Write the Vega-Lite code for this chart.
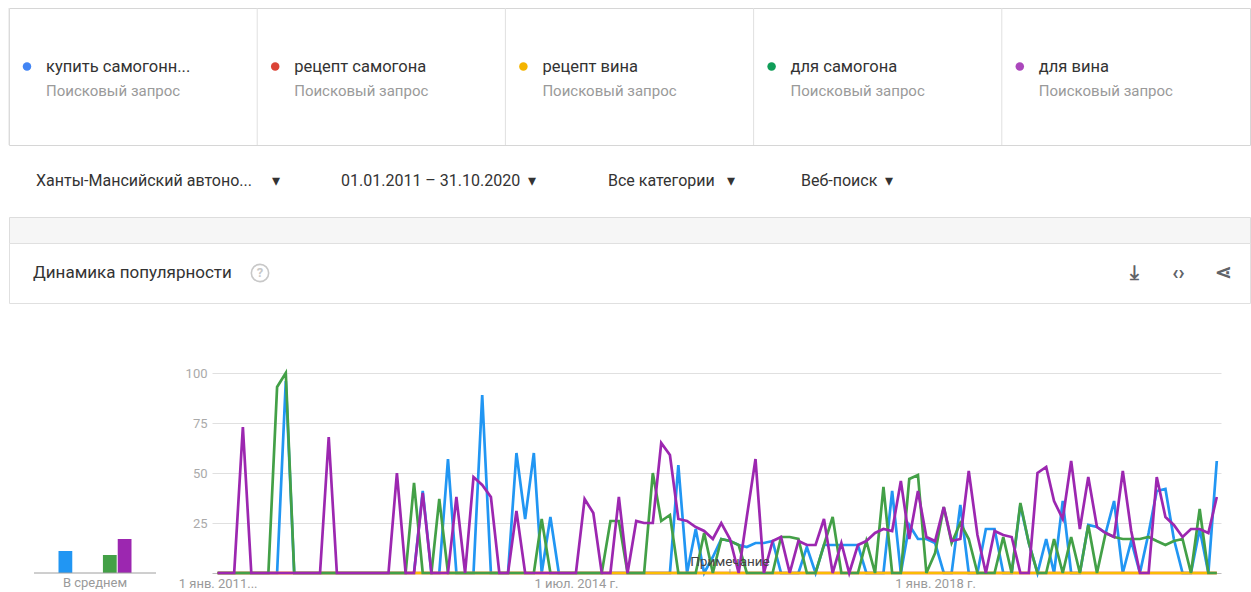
{
  "$schema": "https://vega.github.io/schema/vega-lite/v6.json",
  "padding": {"left": 8, "top": 7, "right": 0, "bottom": 0},
  "background": "white",
  "spacing": 0,
  "bounds": "flush",
  "resolve": {"scale": {"color": "independent"}},
  "config": {
    "font": "Roboto",
    "view": {"stroke": null},
    "axis": {"labelFont": "Roboto", "titleFont": "Roboto"}
  },
  "datasets": {
    "terms": [
      {"c": "b", "term": "купить самогонн...", "sub": "Поисковый запрос"},
      {"c": "r", "term": "рецепт самогона", "sub": "Поисковый запрос"},
      {"c": "y", "term": "рецепт вина", "sub": "Поисковый запрос"},
      {"c": "g", "term": "для самогона", "sub": "Поисковый запрос"},
      {"c": "p", "term": "для вина", "sub": "Поисковый запрос"}
    ],
    "filters": [
      {"k": "region", "label": "Ханты-Мансийский автоно...\u00a0\u00a0\u00a0\u00a0 ▾"},
      {"k": "period", "label": "01.01.2011 – 31.10.2020\u00a0 ▾"},
      {"k": "category", "label": "Все категории\u00a0\u00a0 ▾"},
      {"k": "type", "label": "Веб-поиск\u00a0 ▾"}
    ],
    "header": [
      {"k": "title", "label": "Динамика популярности"},
      {"k": "help", "label": "?"}
    ],
    "icons": [
      {"k": "download", "label": "⤓"},
      {"k": "embed", "label": "‹›"},
      {"k": "share", "label": "⋖"}
    ],
    "avg": [
      {"c": "b", "v": 11},
      {"c": "r", "v": 0},
      {"c": "y", "v": 0},
      {"c": "g", "v": 9},
      {"c": "p", "v": 17}
    ],
    "avgLabel": [{"label": "В среднем"}],
    "notes": [{"d": "2016-01-01", "note": "Примечание"}],
    "trend": [
      {"d":"2011-01-01","b":0,"r":0,"y":0,"g":0,"p":0},
      {"d":"2011-02-01","b":0,"r":0,"y":0,"g":0,"p":0},
      {"d":"2011-03-01","b":0,"r":0,"y":0,"g":0,"p":0},
      {"d":"2011-04-01","b":0,"r":0,"y":0,"g":0,"p":73},
      {"d":"2011-05-01","b":0,"r":0,"y":0,"g":0,"p":0},
      {"d":"2011-06-01","b":0,"r":0,"y":0,"g":0,"p":0},
      {"d":"2011-07-01","b":0,"r":0,"y":0,"g":0,"p":0},
      {"d":"2011-08-01","b":0,"r":0,"y":0,"g":93,"p":0},
      {"d":"2011-09-01","b":96,"r":0,"y":0,"g":100,"p":0},
      {"d":"2011-10-01","b":0,"r":0,"y":0,"g":0,"p":0},
      {"d":"2011-11-01","b":0,"r":0,"y":0,"g":0,"p":0},
      {"d":"2011-12-01","b":0,"r":0,"y":0,"g":0,"p":0},
      {"d":"2012-01-01","b":0,"r":0,"y":0,"g":0,"p":0},
      {"d":"2012-02-01","b":0,"r":0,"y":0,"g":0,"p":68},
      {"d":"2012-03-01","b":0,"r":0,"y":0,"g":0,"p":0},
      {"d":"2012-04-01","b":0,"r":0,"y":0,"g":0,"p":0},
      {"d":"2012-05-01","b":0,"r":0,"y":0,"g":0,"p":0},
      {"d":"2012-06-01","b":0,"r":0,"y":0,"g":0,"p":0},
      {"d":"2012-07-01","b":0,"r":0,"y":0,"g":0,"p":0},
      {"d":"2012-08-01","b":0,"r":0,"y":0,"g":0,"p":0},
      {"d":"2012-09-01","b":0,"r":0,"y":0,"g":0,"p":0},
      {"d":"2012-10-01","b":0,"r":0,"y":0,"g":0,"p":50},
      {"d":"2012-11-01","b":0,"r":0,"y":0,"g":0,"p":0},
      {"d":"2012-12-01","b":0,"r":0,"y":0,"g":45,"p":0},
      {"d":"2013-01-01","b":41,"r":0,"y":0,"g":0,"p":40},
      {"d":"2013-02-01","b":0,"r":0,"y":0,"g":0,"p":0},
      {"d":"2013-03-01","b":0,"r":0,"y":0,"g":37,"p":0},
      {"d":"2013-04-01","b":57,"r":0,"y":0,"g":0,"p":0},
      {"d":"2013-05-01","b":0,"r":0,"y":0,"g":0,"p":38},
      {"d":"2013-06-01","b":0,"r":0,"y":0,"g":0,"p":0},
      {"d":"2013-07-01","b":0,"r":0,"y":0,"g":0,"p":48},
      {"d":"2013-08-01","b":89,"r":0,"y":0,"g":0,"p":44},
      {"d":"2013-09-01","b":0,"r":0,"y":0,"g":0,"p":38},
      {"d":"2013-10-01","b":0,"r":0,"y":0,"g":0,"p":0},
      {"d":"2013-11-01","b":0,"r":0,"y":0,"g":0,"p":0},
      {"d":"2013-12-01","b":60,"r":0,"y":0,"g":0,"p":31},
      {"d":"2014-01-01","b":27,"r":0,"y":0,"g":0,"p":0},
      {"d":"2014-02-01","b":60,"r":0,"y":0,"g":0,"p":0},
      {"d":"2014-03-01","b":0,"r":0,"y":0,"g":27,"p":0},
      {"d":"2014-04-01","b":28,"r":0,"y":0,"g":0,"p":0},
      {"d":"2014-05-01","b":0,"r":0,"y":0,"g":0,"p":0},
      {"d":"2014-06-01","b":0,"r":0,"y":0,"g":0,"p":0},
      {"d":"2014-07-01","b":0,"r":0,"y":0,"g":0,"p":0},
      {"d":"2014-08-01","b":0,"r":0,"y":0,"g":0,"p":37},
      {"d":"2014-09-01","b":0,"r":0,"y":0,"g":0,"p":30},
      {"d":"2014-10-01","b":0,"r":0,"y":0,"g":0,"p":0},
      {"d":"2014-11-01","b":0,"r":0,"y":0,"g":26,"p":0},
      {"d":"2014-12-01","b":0,"r":0,"y":0,"g":26,"p":38},
      {"d":"2015-01-01","b":0,"r":0,"y":0,"g":0,"p":0},
      {"d":"2015-02-01","b":0,"r":0,"y":0,"g":0,"p":26},
      {"d":"2015-03-01","b":0,"r":0,"y":0,"g":0,"p":25},
      {"d":"2015-04-01","b":0,"r":0,"y":0,"g":50,"p":25},
      {"d":"2015-05-01","b":0,"r":0,"y":0,"g":26,"p":65},
      {"d":"2015-06-01","b":0,"r":0,"y":0,"g":29,"p":59},
      {"d":"2015-07-01","b":54,"r":0,"y":0,"g":0,"p":27},
      {"d":"2015-08-01","b":0,"r":0,"y":0,"g":0,"p":26},
      {"d":"2015-09-01","b":22,"r":0,"y":0,"g":0,"p":23},
      {"d":"2015-10-01","b":0,"r":0,"y":0,"g":20,"p":21},
      {"d":"2015-11-01","b":8,"r":0,"y":0,"g":0,"p":17},
      {"d":"2015-12-01","b":17,"r":0,"y":0,"g":17,"p":25},
      {"d":"2016-01-01","b":16,"r":0,"y":0,"g":16,"p":17},
      {"d":"2016-02-01","b":14,"r":0,"y":0,"g":14,"p":0},
      {"d":"2016-03-01","b":13,"r":0,"y":0,"g":0,"p":28},
      {"d":"2016-04-01","b":15,"r":0,"y":0,"g":0,"p":57},
      {"d":"2016-05-01","b":15,"r":0,"y":0,"g":0,"p":0},
      {"d":"2016-06-01","b":16,"r":0,"y":0,"g":0,"p":16},
      {"d":"2016-07-01","b":0,"r":0,"y":0,"g":18,"p":18},
      {"d":"2016-08-01","b":0,"r":0,"y":0,"g":18,"p":0},
      {"d":"2016-09-01","b":0,"r":0,"y":0,"g":17,"p":16},
      {"d":"2016-10-01","b":13,"r":0,"y":0,"g":0,"p":14},
      {"d":"2016-11-01","b":0,"r":0,"y":0,"g":0,"p":14},
      {"d":"2016-12-01","b":14,"r":0,"y":0,"g":14,"p":27},
      {"d":"2017-01-01","b":14,"r":0,"y":0,"g":28,"p":0},
      {"d":"2017-02-01","b":14,"r":0,"y":0,"g":0,"p":15},
      {"d":"2017-03-01","b":14,"r":0,"y":0,"g":0,"p":0},
      {"d":"2017-04-01","b":14,"r":0,"y":0,"g":0,"p":14},
      {"d":"2017-05-01","b":0,"r":0,"y":0,"g":16,"p":16},
      {"d":"2017-06-01","b":0,"r":0,"y":0,"g":0,"p":20},
      {"d":"2017-07-01","b":0,"r":0,"y":0,"g":43,"p":22},
      {"d":"2017-08-01","b":41,"r":0,"y":0,"g":0,"p":21},
      {"d":"2017-09-01","b":0,"r":0,"y":0,"g":0,"p":46},
      {"d":"2017-10-01","b":24,"r":0,"y":0,"g":47,"p":17},
      {"d":"2017-11-01","b":17,"r":0,"y":0,"g":49,"p":41},
      {"d":"2017-12-01","b":17,"r":0,"y":0,"g":0,"p":18},
      {"d":"2018-01-01","b":15,"r":0,"y":0,"g":10,"p":16},
      {"d":"2018-02-01","b":0,"r":0,"y":0,"g":33,"p":33},
      {"d":"2018-03-01","b":0,"r":0,"y":0,"g":15,"p":16},
      {"d":"2018-04-01","b":34,"r":0,"y":0,"g":25,"p":17},
      {"d":"2018-05-01","b":0,"r":0,"y":0,"g":17,"p":51},
      {"d":"2018-06-01","b":0,"r":0,"y":0,"g":0,"p":19},
      {"d":"2018-07-01","b":22,"r":0,"y":0,"g":0,"p":0},
      {"d":"2018-08-01","b":22,"r":0,"y":0,"g":0,"p":21},
      {"d":"2018-09-01","b":0,"r":0,"y":0,"g":18,"p":19},
      {"d":"2018-10-01","b":0,"r":0,"y":0,"g":0,"p":18},
      {"d":"2018-11-01","b":34,"r":0,"y":0,"g":35,"p":0},
      {"d":"2018-12-01","b":15,"r":0,"y":0,"g":15,"p":0},
      {"d":"2019-01-01","b":0,"r":0,"y":0,"g":0,"p":50},
      {"d":"2019-02-01","b":17,"r":0,"y":0,"g":0,"p":53},
      {"d":"2019-03-01","b":0,"r":0,"y":0,"g":17,"p":36},
      {"d":"2019-04-01","b":36,"r":0,"y":0,"g":0,"p":27},
      {"d":"2019-05-01","b":0,"r":0,"y":0,"g":18,"p":56},
      {"d":"2019-06-01","b":0,"r":0,"y":0,"g":0,"p":22},
      {"d":"2019-07-01","b":24,"r":0,"y":0,"g":24,"p":48},
      {"d":"2019-08-01","b":23,"r":0,"y":0,"g":0,"p":23},
      {"d":"2019-09-01","b":20,"r":0,"y":0,"g":20,"p":20},
      {"d":"2019-10-01","b":36,"r":0,"y":0,"g":18,"p":18},
      {"d":"2019-11-01","b":0,"r":0,"y":0,"g":17,"p":51},
      {"d":"2019-12-01","b":16,"r":0,"y":0,"g":17,"p":21},
      {"d":"2020-01-01","b":0,"r":0,"y":0,"g":17,"p":0},
      {"d":"2020-02-01","b":20,"r":0,"y":0,"g":18,"p":0},
      {"d":"2020-03-01","b":41,"r":0,"y":0,"g":16,"p":48},
      {"d":"2020-04-01","b":42,"r":0,"y":0,"g":14,"p":28},
      {"d":"2020-05-01","b":17,"r":0,"y":0,"g":16,"p":24},
      {"d":"2020-06-01","b":0,"r":0,"y":0,"g":17,"p":18},
      {"d":"2020-07-01","b":0,"r":0,"y":0,"g":0,"p":22},
      {"d":"2020-08-01","b":22,"r":0,"y":0,"g":32,"p":22},
      {"d":"2020-09-01","b":0,"r":0,"y":0,"g":0,"p":20},
      {"d":"2020-10-01","b":56,"r":0,"y":0,"g":0,"p":38}
    ]
  },
  "vconcat": [
    {
      "width": 1241,
      "height": 137,
      "view": {"stroke": "#d6d6d6"},
      "data": {"name": "terms"},
      "layer": [
        {
          "mark": {"type": "rule", "color": "#e0e0e0", "strokeWidth": 1},
          "encoding": {
            "x": {"field": "term", "type": "nominal", "sort": null, "bandPosition": 0,
                  "scale": {"type": "band", "paddingInner": 0, "paddingOuter": 0}, "axis": null}
          }
        },
        {
          "mark": {"type": "circle", "size": 72, "opacity": 1},
          "encoding": {
            "x": {"field": "term", "type": "nominal", "sort": null, "bandPosition": 0.0725,
                  "scale": {"type": "band", "paddingInner": 0, "paddingOuter": 0}, "axis": null},
            "y": {"datum": "name", "type": "nominal", "scale": {"type": "point", "domain": ["name", "sub"], "padding": 0, "range": [58.5, 82.5]}, "axis": null},
            "color": {"field": "c", "type": "nominal", "scale": {"domain": ["b", "r", "y", "g", "p"], "range": ["#4285f4", "#db4437", "#f4b400", "#0f9d58", "#ab47bc"]}, "legend": null}
          }
        },
        {
          "mark": {"type": "text", "align": "left", "baseline": "middle", "fontSize": 16.5, "color": "#333333"},
          "encoding": {
            "x": {"field": "term", "type": "nominal", "sort": null, "bandPosition": 0.1491,
                  "scale": {"type": "band", "paddingInner": 0, "paddingOuter": 0}, "axis": null},
            "y": {"datum": "name", "type": "nominal", "scale": {"type": "point", "domain": ["name", "sub"], "padding": 0, "range": [58.5, 82.5]}, "axis": null},
            "text": {"field": "term"}
          }
        },
        {
          "mark": {"type": "text", "align": "left", "baseline": "middle", "fontSize": 15, "color": "#9a9a9a"},
          "encoding": {
            "x": {"field": "term", "type": "nominal", "sort": null, "bandPosition": 0.1491,
                  "scale": {"type": "band", "paddingInner": 0, "paddingOuter": 0}, "axis": null},
            "y": {"datum": "sub", "type": "nominal", "scale": {"type": "point", "domain": ["name", "sub"], "padding": 0, "range": [58.5, 82.5]}, "axis": null},
            "text": {"field": "sub"}
          }
        }
      ]
    },
    {
      "width": 1241,
      "height": 72,
      "data": {"name": "filters"},
      "layer": [
        {
          "transform": [{"filter": "datum.k == 'region' || datum.k == 'period'"}],
          "mark": {"type": "text", "align": "left", "baseline": "middle", "fontSize": 16, "color": "#333333"},
          "encoding": {
            "x": {"field": "k", "type": "nominal", "sort": null, "scale": {"type": "point", "padding": 0, "range": [27, 332]}, "axis": null},
            "text": {"field": "label"}
          }
        },
        {
          "transform": [{"filter": "datum.k == 'category' || datum.k == 'type'"}],
          "mark": {"type": "text", "align": "left", "baseline": "middle", "fontSize": 16, "color": "#333333"},
          "encoding": {
            "x": {"field": "k", "type": "nominal", "sort": null, "scale": {"type": "point", "padding": 0, "range": [599, 792]}, "axis": null},
            "text": {"field": "label"}
          }
        }
      ],
      "resolve": {"scale": {"x": "independent"}}
    },
    {
      "width": 1241,
      "height": 26,
      "view": {"fill": "#f6f6f6", "stroke": "#dddddd"},
      "data": {"values": [{"t": ""}]},
      "mark": {"type": "text"},
      "encoding": {"text": {"field": "t"}}
    },
    {
      "width": 1241,
      "height": 60,
      "view": {"stroke": "#e0e0e0"},
      "layer": [
        {
          "data": {"name": "header"},
          "layer": [
            {
              "transform": [{"filter": "datum.k == 'title'"}],
              "mark": {"type": "text", "align": "left", "baseline": "middle", "fontSize": 17, "color": "#333333"},
              "encoding": {
                "x": {"field": "k", "type": "nominal", "scale": {"type": "point", "domain": ["title", "help"], "padding": 0, "range": [24, 251]}, "axis": null},
                "text": {"field": "label"}
              }
            },
            {
              "transform": [{"filter": "datum.k == 'help'"}],
              "mark": {"type": "point", "shape": "circle", "filled": false, "size": 300, "strokeWidth": 1.6, "color": "#c8c8c8", "opacity": 1},
              "encoding": {
                "x": {"field": "k", "type": "nominal", "scale": {"type": "point", "domain": ["title", "help"], "padding": 0, "range": [24, 251]}, "axis": null}
              }
            },
            {
              "transform": [{"filter": "datum.k == 'help'"}],
              "mark": {"type": "text", "align": "center", "baseline": "middle", "fontSize": 13, "fontWeight": "bold", "color": "#c8c8c8"},
              "encoding": {
                "x": {"field": "k", "type": "nominal", "scale": {"type": "point", "domain": ["title", "help"], "padding": 0, "range": [24, 251]}, "axis": null},
                "text": {"field": "label"}
              }
            }
          ]
        },
        {
          "data": {"name": "icons"},
          "mark": {"type": "text", "align": "center", "baseline": "middle", "fontSize": 20, "fontWeight": "bold", "color": "#5f6368"},
          "encoding": {
            "x": {"field": "k", "type": "nominal", "sort": null, "scale": {"type": "point", "padding": 0, "range": [1125, 1214]}, "axis": null},
            "text": {"field": "label"}
          }
        }
      ],
      "resolve": {"scale": {"x": "independent"}}
    },
    {
      "spacing": 56,
      "bounds": "flush",
      "hconcat": [
        {
          "width": 147,
          "height": 270,
          "layer": [
            {
              "data": {"name": "avg"},
              "mark": {"type": "bar"},
              "encoding": {
                "x": {"field": "c", "type": "nominal", "sort": null,
                      "scale": {"domain": ["b", "r", "y", "g", "p"], "paddingInner": 0.07, "paddingOuter": 0, "range": [49.5, 122.5]},
                      "axis": null},
                "y": {"field": "v", "type": "quantitative", "scale": {"domain": [0, 135], "nice": false}, "axis": null},
                "color": {"field": "c", "type": "nominal", "scale": {"domain": ["b", "r", "y", "g", "p"], "range": ["#2196f3", "#e53935", "#fbbc04", "#43a047", "#9c27b0"]}, "legend": null}
              }
            },
            {
              "data": {"name": "avgLabel"},
              "layer": [
                {
                  "mark": {"type": "rule", "color": "#9e9e9e", "strokeWidth": 1},
                  "encoding": {
                    "x": {"datum": 0, "type": "quantitative", "scale": {"domain": [0, 1], "range": [25, 147]}, "axis": null},
                    "x2": {"datum": 1},
                    "y": {"datum": 0, "type": "quantitative"}
                  }
                },
                {
                  "mark": {"type": "text", "align": "center", "baseline": "top", "dy": 4, "fontSize": 13, "color": "#9a9a9a"},
                  "encoding": {
                    "x": {"datum": 0.5, "type": "quantitative", "scale": {"domain": [0, 1], "range": [25, 147]}, "axis": null},
                    "y": {"datum": 0, "type": "quantitative"},
                    "text": {"field": "label"}
                  }
                }
              ]
            }
          ],
          "resolve": {"scale": {"x": "independent"}}
        },
        {
          "width": 1009,
          "height": 270,
          "layer": [
            {
              "data": {"name": "trend"},
              "transform": [{"fold": ["b", "r", "y", "g", "p"], "as": ["c", "v"]}],
              "mark": {"type": "line", "strokeWidth": 2.7, "interpolate": "linear"},
              "encoding": {
                "x": {"field": "d", "type": "temporal",
                      "scale": {"type": "utc", "domain": [{"year": 2010, "month": 12, "date": 12, "utc": true}, {"year": 2020, "month": 10, "date": 16, "utc": true}]},
                      "axis": {"title": null, "values": [{"year": 2011, "month": 1, "date": 1, "utc": true}, {"year": 2014, "month": 7, "date": 1, "utc": true}, {"year": 2018, "month": 1, "date": 1, "utc": true}],
                               "labelExpr": "'1 ' + ['янв.','февр.','мар.','апр.','мая','июн.','июл.','авг.','сент.','окт.','нояб.','дек.'][utcmonth(datum.value)] + ' ' + utcyear(datum.value) + (utcyear(datum.value) == 2011 ? '...' : ' г.')",
                               "ticks": false, "domain": true, "domainColor": "#bdbdbd", "grid": false, "labelColor": "#9a9a9a", "labelFontSize": 13, "labelPadding": 4, "labelFlush": false, "labelOverlap": false, "maxExtent": 18}},
                "y": {"field": "v", "type": "quantitative", "scale": {"domain": [0, 135], "nice": false},
                      "axis": {"title": null, "values": [25, 50, 75, 100], "grid": true, "gridColor": "#e0e0e0", "domain": false, "ticks": false, "labelColor": "#aaaaaa", "labelFontSize": 13, "labelPadding": 5, "minExtent": 30, "maxExtent": 30}},
                "color": {"field": "c", "type": "nominal", "scale": {"domain": ["b", "r", "y", "g", "p"], "range": ["#2196f3", "#e53935", "#fbbc04", "#43a047", "#9c27b0"]}, "legend": null}
              }
            },
            {
              "data": {"name": "notes"},
              "mark": {"type": "rule", "color": "#9e9e9e", "strokeWidth": 1},
              "encoding": {
                "x": {"field": "d", "type": "temporal", "scale": {"type": "utc"}},
                "y": {"datum": 0, "type": "quantitative"},
                "y2": {"datum": 2}
              }
            },
            {
              "data": {"name": "notes"},
              "mark": {"type": "text", "baseline": "bottom", "align": "center", "dy": -4, "fontSize": 13.5, "color": "#444444"},
              "encoding": {
                "x": {"field": "d", "type": "temporal", "scale": {"type": "utc"}},
                "y": {"datum": 0, "type": "quantitative"},
                "text": {"field": "note"}
              }
            }
          ]
        }
      ]
    }
  ]
}
